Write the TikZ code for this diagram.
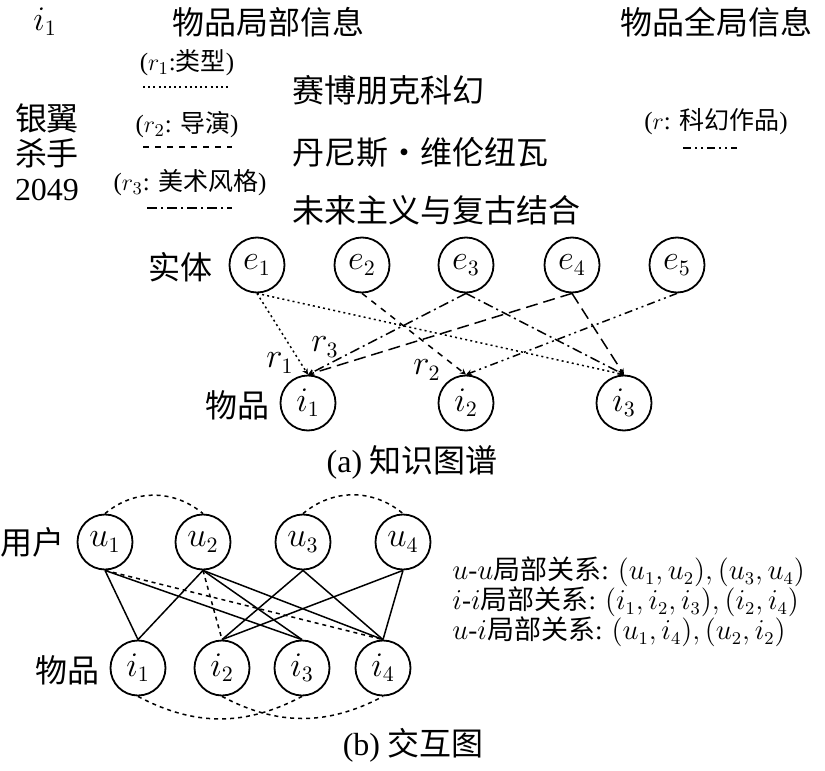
\documentclass[tikz,border=0pt]{standalone}
\usepackage{fontspec}
\setmainfont{Liberation Serif}
\newfontfamily\cjk{Noto Sans CJK SC}
\usetikzlibrary{arrows.meta}

\tikzstyle{ent}   = [circle, draw, line width=0.9pt, minimum size=27.5pt, inner sep=0pt, font=\fontsize{16}{19}\selectfont]
\tikzstyle{big}   = [inner sep=0pt, font=\cjk\fontsize{16}{17.5}\selectfont]
\tikzstyle{mid}   = [inner sep=0pt, font=\fontsize{12.5}{14}\selectfont]
\tikzstyle{rel}   = [inner sep=0pt, anchor=west, font=\fontsize{13.5}{15}\selectfont]
\tikzstyle{ln}    = [line width=0.75pt, line cap=butt]
\tikzstyle{rone}  = [ln, dash pattern=on 1pt off 1.6pt]
\tikzstyle{rtwo}  = [ln, dash pattern=on 3pt off 3pt]
\tikzstyle{rthree}= [ln, dash pattern=on 5pt off 2pt on 1pt off 2pt]
\tikzstyle{rglob} = [ln, dash pattern=on 4pt off 2pt on 1pt off 2pt on 1pt off 2pt]
\tikzstyle{rlong} = [ln, dash pattern=on 6pt off 3pt]
\tikzstyle{bdash} = [ln, dash pattern=on 2pt off 2pt]

\begin{document}
\begin{tikzpicture}[x=0.5pt, y=-0.5pt, >={Stealth[length=3pt,width=3pt]}]
  \useasboundingbox (0,0) rectangle (825,771);

  % (a) header and legend
  \node[font=\fontsize{16}{19}\selectfont, inner sep=0pt] (item) at (45,22) {$i_1$};
  \node[big] (loc) at (268,22) {物品局部信息};
  \node[big] (glob) at (716,22) {物品全局信息};
  \node[big, align=center] (film) at (47,152) {银翼\\杀手\\{\rmfamily 2049}};

  \node[mid] (lr1) at (187,63)  {($r_1$:{\cjk 类型})};
  \node[mid] (lr2) at (187,125) {($r_2$: {\cjk 导演})};
  \node[mid] (lr3) at (190,183) {($r_3$: {\cjk 美术风格})};
  \node[mid] (lr)  at (716,122) {($r$: {\cjk 科幻作品})};
  \draw[rone]   (143,87)  -- (230,87);
  \draw[rtwo]   (143,147) -- (232,147);
  \draw[rthree] (147,208) -- (232,208);
  \draw[rglob]  (683,148) -- (737,148);

  \node[big, anchor=west] (v1) at (292,90)  {赛博朋克科幻};
  \node[big, anchor=west] (v2) at (292,152) {丹尼斯·维伦纽瓦};
  \node[big, anchor=west] (v3) at (292,210) {未来主义与复古结合};

  % (a) graph
  \node[big] (lent) at (180,267) {实体};
  \node[big] (litm) at (237,405) {物品};
  \foreach \n/\x in {1/257, 2/362, 3/466, 4/572, 5/677}
    \node[ent] (e\n) at (\x,265) {$e_{\n}$};
  \foreach \n/\x in {1/308, 2/466, 3/624}
    \node[ent] (i\n) at (\x,403) {$i_{\n}$};

  \draw[rone, ->]   (e1.south) -- (i1.north);
  \draw[rone, ->]   (e1.south) -- (i3.north);
  \draw[rtwo, ->]   (e2.south) -- (i2.north);
  \draw[rthree, ->] (e3.south) -- (i1.north);
  \draw[rthree, ->] (e3.south) -- (i3.north);
  \draw[rlong, ->]  (e4.south) -- (i1.north);
  \draw[rlong, ->]  (e4.south) -- (i3.north);
  \draw[rglob, ->]  (e5.south) -- (i2.north);

  \node[font=\fontsize{16}{19}\selectfont, inner sep=0pt] (t1) at (280,363) {$r_1$};
  \node[font=\fontsize{16}{19}\selectfont, inner sep=0pt] (t3) at (325,347) {$r_3$};
  \node[font=\fontsize{16}{19}\selectfont, inner sep=0pt] (t2) at (427,370) {$r_2$};

  \node[big] (capa) at (412,462) {{\rmfamily (a)} 知识图谱};

  % (b) interaction graph
  \node[big] (luser) at (33,542) {用户};
  \node[big] (litem) at (67,670) {物品};
  \foreach \n/\x in {1/105, 2/203, 3/303, 4/403}
    \node[ent] (u\n) at (\x,542) {$u_{\n}$};
  \foreach \n/\x in {1/138, 2/222, 3/302, 4/383}
    \node[ent] (j\n) at (\x,668) {$i_{\n}$};

  \foreach \a/\b in {1/1, 1/3, 2/1, 2/3, 2/4, 3/2, 3/4, 4/2, 4/4}
    \draw[ln] (u\a.south) -- (j\b.north);
  \draw[bdash] (u1.south) -- (j4.north);
  \draw[bdash] (u2.south) -- (j2.north);
  \draw[bdash] (u1.north) to[bend left=40] (u2.north);
  \draw[bdash] (u3.north) to[bend left=40] (u4.north);
  \draw[bdash] (j1.south) to[bend right=28] (j3.south);
  \draw[bdash] (j2.south) to[bend right=28] (j4.south);

  \node[rel] (rel1) at (452,572) {$u$-$u${\cjk 局部关系}: $(u_1,u_2),(u_3,u_4)$};
  \node[rel] (rel2) at (452,602) {$i$-$i${\cjk 局部关系}: $(i_1,i_2,i_3),(i_2,i_4)$};
  \node[rel] (rel3) at (452,632) {$u$-$i${\cjk 局部关系}: $(u_1,i_4),(u_2,i_2)$};

  \node[big] (capb) at (413,745) {{\rmfamily (b)} 交互图};
\end{tikzpicture}
\end{document}
